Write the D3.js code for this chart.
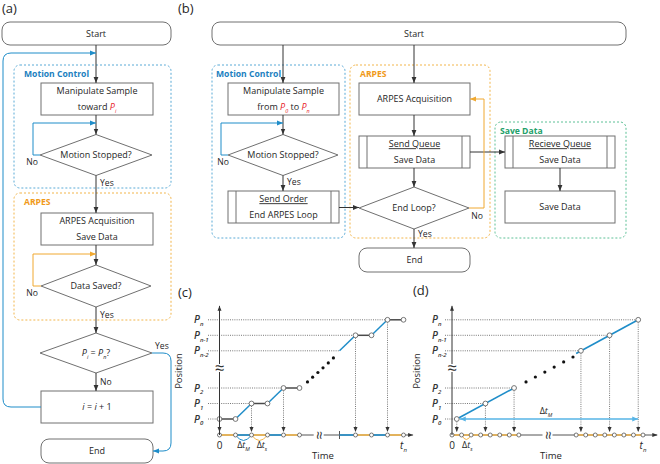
<!DOCTYPE html>
<html><head><meta charset="utf-8">
<script src="https://cdn.jsdelivr.net/npm/d3@7"></script>
<style>body{margin:0;background:#fff}svg{display:block;font-family:"Open Sans",sans-serif}</style>
</head><body><svg id="c" width="660" height="464"></svg>
<script>
// ================= DATA =================
const panelLabels = ["(a)", "(b)", "(c)", "(d)"];
const groupTitles = ["Motion Control", "ARPES", "Save Data"];
// flowchart texts (rich parts: string | {P:sub, red} | {it:txt} | {u:txt})
const textA = {
  start: [["Start"]],
  move: [["Manipulate Sample"], ["toward ", {P: "i", red: 1}]],
  stopped: [["Motion Stopped?"]],
  acq: [["ARPES Acquisition"], ["Save Data"]],
  saved: [["Data Saved?"]],
  done: [[{P: "i"}, " = ", {P: "n"}, "?"]],
  inc: [[{it: "i"}, " = ", {it: "i"}, " + 1"]],
  end: [["End"]]
};
const textB = {
  start: [["Start"]],
  move: [["Manipulate Sample"], ["from ", {P: "0", red: 1}, " to ", {P: "n", red: 1}]],
  stopped: [["Motion Stopped?"]],
  order: [[{u: "Send Order"}], ["End ARPES Loop"]],
  acq: [["ARPES Acquisition"]],
  queue: [[{u: "Send Queue"}], ["Save Data"]],
  endloop: [["End Loop?"]],
  end: [["End"]],
  recv: [[{u: "Recieve Queue"}], ["Save Data"]],
  save: [["Save Data"]]
};
const branchLabels = ["Yes", "No"];

// position/time charts
const posNames = ["0", "1", "2", "n-2", "n-1", "n"];
const posLevels = [0, 1, 2, 4.4, 5.4, 6.4];
// (c) step-wise motion
const cTimes = [0, 1, 2, 3, 4, 5, 7.5, 8.5, 9.5, 10.5, 11.5];
const cPos   = [0, 0, 1, 1, 2, 2, 4.4, 5.4, 5.4, 6.4, 6.4];
const cMarkT = [0, 1, 2, 3, 4, 5, 8.5, 9.5, 10.5, 11.5];
const cPhaseT = [[0,1],[1,2],[2,3],[3,4],[4,5],[7.5,8.5],[8.5,9.5],[9.5,10.5],[10.5,11.5]];
const cPhase  = ["acq","move","acq","move","acq","move","acq","move","acq"];
const cDropT = [0, 2, 4, 8.5, 10.5];
const cDropP = [0, 1, 2, 5.4, 6.4];
const cGuideT = [0, 2, 4, 7.5, 8.5, 10.5];
const cDotT = [5.5, 5.82, 6.15, 6.47, 6.8, 7.12];
const cDotP = [2.39, 2.7, 3.0, 3.3, 3.62, 3.94];
// (d) continuous motion
const dPtT = [0.5, 3.5, 6.5, 13.5, 16.5, 19.5];
const dPtP = [0, 1, 2, 4.4, 5.4, 6.4];
const dLineA = [[0.5, 0], [6.5, 2]];
const dLineB = [[13.0, 4.23], [19.5, 6.4]];
const dMarkT = [0,1,2,3,4,5,6,7,13,14,15,16,17,18,19,20];
const dDotT = [7.75, 8.73, 9.72, 10.7, 11.69, 12.67];
const dDotP = [2.39, 2.71, 3.03, 3.35, 3.68, 4.0];

// ================= STYLE =================
const C = {stroke:"#707070", text:"#262626", blue:"#1f8dc9", blueT:"#1b7fc0", blueD:"#5aaad6",
  orange:"#f0a830", orangeT:"#f09a1a", orangeD:"#f2b54a", green:"#23a06a", greenD:"#5cc096",
  red:"#e8262c", hold:"#4a4a4a", lblue:"#56b4e6", dark:"#333"};
const FS = 9;
const svg = d3.select("#c");
const defs = svg.append("defs");
function marker(id, col, size) {
  defs.append("marker").attr("id", id).attr("viewBox", "0 0 10 10").attr("refX", 10).attr("refY", 5)
    .attr("markerWidth", size).attr("markerHeight", size).attr("markerUnits", "userSpaceOnUse")
    .attr("orient", "auto-start-reverse")
    .append("path").attr("d", "M0,1 L10,5 L0,9 Z").attr("fill", col);
}
marker("arD", C.dark, 6); marker("arB", C.blue, 6); marker("arO", C.orange, 6);
marker("arL", C.lblue, 6); marker("arS", C.dark, 5);

// ================= HELPERS =================
function rich(g, x, y, parts, opt = {}) {
  const size = opt.size || FS;
  const t = g.append("text").attr("x", x).attr("y", y).attr("text-anchor", opt.anchor || "middle")
    .attr("font-size", size).attr("fill", opt.fill || C.text)
    .attr("font-weight", opt.weight || null).attr("font-style", opt.style || null);
  let shift = 0;
  const add = (txt) => { const s = t.append("tspan").text(txt); if (shift) { s.attr("dy", shift); shift = 0; } return s; };
  const sub = (txt, col) => {
    const s = t.append("tspan").attr("font-size", size * 0.6).attr("dy", size * 0.28 + shift).attr("font-style", "italic")
      .attr("fill", col || null).text(txt);
    shift = -size * 0.28;
    return s;
  };
  parts.forEach(p => {
    if (typeof p === "string") add(p);
    else if (p.P !== undefined) {
      const col = p.red ? C.red : null;
      add("P").attr("font-style", "italic").attr("fill", col);
      sub(p.P, col);
    } else if (p.it !== undefined) add(p.it).attr("font-style", "italic");
    else if (p.u !== undefined) add(p.u).attr("text-decoration", "underline");
    else if (p.sub !== undefined) sub(p.sub);
  });
  return t;
}
function lines(g, cx, cy, rows) {
  const n = rows.length, gap = 16;
  rows.forEach((r, i) => rich(g, cx, cy + (i - (n - 1) / 2) * gap + FS * 0.36, r));
}
function node(g, kind, b, rows, tx) {
  if (kind === "dec") {
    g.append("polygon").attr("points", [[b.cx, b.cy - b.hh], [b.cx + b.hw, b.cy], [b.cx, b.cy + b.hh], [b.cx - b.hw, b.cy]].join(" "))
      .attr("fill", "#fff").attr("stroke", C.stroke).attr("stroke-width", 1);
    lines(g, b.cx, b.cy, rows);
    return;
  }
  g.append("rect").attr("x", b.x).attr("y", b.y).attr("width", b.w).attr("height", b.h)
    .attr("rx", kind === "term" ? 8 : 0).attr("fill", "#fff").attr("stroke", C.stroke).attr("stroke-width", 1);
  if (kind === "pre") {
    [b.x + 8, b.x + b.w - 8].forEach(xx => g.append("line").attr("x1", xx).attr("x2", xx)
      .attr("y1", b.y).attr("y2", b.y + b.h).attr("stroke", C.stroke));
  }
  lines(g, tx !== undefined ? tx : b.x + b.w / 2, b.y + b.h / 2, rows);
}
function group(g, b, col, title, tcol) {
  g.append("rect").attr("x", b.x).attr("y", b.y).attr("width", b.w).attr("height", b.h).attr("rx", 6)
    .attr("fill", "none").attr("stroke", col).attr("stroke-dasharray", "2,2").attr("stroke-width", 1);
  g.append("text").attr("x", b.x + 10 - (b.tx || 0)).attr("y", b.y + 11.5).attr("font-size", 8.6)
    .attr("font-weight", 700).attr("fill", tcol).text(title);
}
function path(g, d, col, mk, w = 1) {
  g.append("path").attr("d", d).attr("fill", "none").attr("stroke", col).attr("stroke-width", w)
    .attr("marker-end", mk ? `url(#${mk})` : null);
}
function seg(g, a, b) { path(g, `M${a[0]},${a[1]}L${b[0]},${b[1]}`, C.dark, "arD"); }
function lab(g, x, y, t, anchor = "start") {
  g.append("text").attr("x", x).attr("y", y).attr("font-size", 8.6).attr("fill", C.text).attr("text-anchor", anchor).text(t);
}

// ================= PANEL LABELS =================
const plPos = [[2, 13], [178, 13], [178, 297], [413, 295]];
panelLabels.forEach((t, i) => svg.append("text").attr("x", plPos[i][0]).attr("y", plPos[i][1])
  .attr("font-size", 13).attr("fill", C.text).text(t));

// ================= PANEL (a) =================
const A = svg.append("g");
group(A, {x: 14, y: 65, w: 157, h: 123}, C.blueD, groupTitles[0], C.blueT);
group(A, {x: 14, y: 193, w: 157, h: 127}, C.orangeD, groupTitles[1], C.orangeT);
node(A, "term", {x: 2, y: 22, w: 169, h: 23}, textA.start, 96);
node(A, "proc", {x: 41, y: 83, w: 112, h: 32}, textA.move);
node(A, "dec", {cx: 96, cy: 155, hw: 56, hh: 20.5}, textA.stopped);
node(A, "proc", {x: 41, y: 213, w: 112, h: 32}, textA.acq);
node(A, "dec", {cx: 96, cy: 286, hw: 55, hh: 21}, textA.saved);
node(A, "dec", {cx: 96, cy: 353, hw: 56, hh: 20}, textA.done);
node(A, "proc", {x: 41, y: 391, w: 112, h: 32}, textA.inc);
node(A, "term", {x: 41, y: 439, w: 112, h: 24}, textA.end);
[[45, 83], [115, 134.5], [175.5, 213], [245, 265], [307, 333], [373, 391]].forEach(p => seg(A, [96, p[0]], [96, p[1]]));
path(A, "M40,155H33V123H96", C.blue, "arB");
path(A, "M41,286H33V254H96", C.orange, "arO");
path(A, "M41,407H11Q3,407 3,399V61Q3,53 11,53H96", C.blue, "arB");
path(A, "M152,353H163Q171,353 171,361V443Q171,451 163,451H153", C.blue, "arB");
lab(A, 32, 165, branchLabels[1], "middle");
lab(A, 100, 186, branchLabels[0]);
lab(A, 32, 296, branchLabels[1], "middle");
lab(A, 100, 318, branchLabels[0]);
lab(A, 155, 349, branchLabels[0]);
lab(A, 100, 385, branchLabels[1]);

// ================= PANEL (b) =================
const B = svg.append("g");
group(B, {x: 212, y: 65, w: 133, h: 173, tx: 6}, C.blueD, groupTitles[0], C.blueT);
group(B, {x: 350, y: 65, w: 140, h: 173}, C.orangeD, groupTitles[1], C.orangeT);
group(B, {x: 495, y: 122, w: 131, h: 116, tx: 5}, C.greenD, groupTitles[2], C.green);
node(B, "term", {x: 212, y: 22, w: 414, h: 23}, textB.start, 414);
node(B, "proc", {x: 228, y: 83, w: 111, h: 32}, textB.move);
node(B, "dec", {cx: 283, cy: 155, hw: 55, hh: 20.5}, textB.stopped);
node(B, "pre", {x: 228, y: 191, w: 111, h: 32}, textB.order);
node(B, "proc", {x: 359, y: 83, w: 111, h: 32}, textB.acq);
node(B, "pre", {x: 359, y: 136, w: 111, h: 32}, textB.queue);
node(B, "dec", {cx: 414, cy: 208, hw: 55, hh: 21}, textB.endloop);
node(B, "term", {x: 359, y: 248, w: 111, h: 24}, textB.end);
node(B, "pre", {x: 505, y: 136, w: 110, h: 32}, textB.recv);
node(B, "proc", {x: 505, y: 191, w: 110, h: 32}, textB.save);
seg(B, [283, 45], [283, 83]); seg(B, [414, 45], [414, 83]);
seg(B, [283, 115], [283, 134.5]); seg(B, [283, 175.5], [283, 191]);
seg(B, [339, 207.5], [359, 207.5]);
seg(B, [414, 115], [414, 136]); seg(B, [414, 168], [414, 187]); seg(B, [414, 229], [414, 248]);
seg(B, [470, 152], [505, 152]); seg(B, [560, 168], [560, 191]);
path(B, "M228,155H221V123H283", C.blue, "arB");
path(B, "M469,208H484V99H470", C.orange, "arO");
lab(B, 223, 165, branchLabels[1], "middle");
lab(B, 287, 185, branchLabels[0]);
lab(B, 477, 219, branchLabels[1], "middle");
lab(B, 418, 237, branchLabels[0]);

// ================= CHART HELPERS =================
function posAxis(g, x, y, ax, labX) {
  path(g, `M${x(0)},${ax}V${y(7.3)}`, C.dark, "arS");
  g.append("rect").attr("x", x(0) - 6).attr("y", 364).attr("width", 12).attr("height", 8).attr("fill", "#fff");
  g.append("text").attr("x", x(0)).attr("y", 374).attr("text-anchor", "middle").attr("font-size", 17)
    .attr("fill", C.dark).text("\u2248");
  posNames.forEach((n, i) => rich(g, labX, y(posLevels[i]) + 3.5, [{P: n}], {anchor: "start", size: 10, weight: 600, fill: C.dark}));
  g.append("text").attr("transform", `translate(${labX - 12},371) rotate(-90)`).attr("text-anchor", "middle")
    .attr("font-size", 9.5).attr("fill", C.text).text("Position");
}
function xBreak(g, xb, ax) {
  g.append("rect").attr("x", xb - 5).attr("y", ax - 5).attr("width", 10).attr("height", 10).attr("fill", "#fff");
  g.append("text").attr("transform", `translate(${xb},${ax}) rotate(90)`).attr("text-anchor", "middle")
    .attr("dy", 5).attr("font-size", 15).attr("fill", C.dark).text("\u2248");
}
function dotted(g, x1, y1, x2, y2, arrow) {
  g.append("line").attr("x1", x1).attr("y1", y1).attr("x2", x2).attr("y2", y2).attr("stroke", "#555")
    .attr("stroke-width", 0.8).attr("stroke-dasharray", "1,1.2").attr("marker-end", arrow ? "url(#arS)" : null);
}
function circ(g, cx, cy, r = 2.4) {
  g.append("circle").attr("cx", cx).attr("cy", cy).attr("r", r).attr("fill", "#fff").attr("stroke", "#666").attr("stroke-width", 0.9);
}

// ================= PANEL (c) =================
const G1 = svg.append("g");
const xc = d3.scaleLinear().domain([0, 1]).range([219.5, 235.5]);
const yc = d3.scaleLinear().domain([0, 1]).range([419, 403.5]);
const axC = 435;
posLevels.forEach((l, i) => dotted(G1, 208, yc(l), xc(cGuideT[i]), yc(l), false));
cDropT.forEach((t, i) => dotted(G1, xc(t), yc(cDropP[i]) + 2.5, xc(t), axC - 3, true));
path(G1, `M${xc(0)},${axC}H${xc(12.1)}`, "#555", "arS");
xBreak(G1, xc(6.2), axC);
G1.append("line").attr("x1", xc(7.5)).attr("x2", xc(7.5)).attr("y1", axC - 4).attr("y2", axC + 4).attr("stroke", "#555");
cPhaseT.forEach((p, i) => G1.append("line").attr("x1", xc(p[0])).attr("x2", xc(p[1])).attr("y1", axC).attr("y2", axC)
  .attr("stroke", cPhase[i] === "acq" ? C.orangeD : C.blue).attr("stroke-width", 1.6));
[[1, 2, C.blue], [2, 3, C.orangeD]].forEach(a => path(G1, `M${xc(a[0])},${axC}Q${xc((a[0] + a[1]) / 2)},${axC + 11} ${xc(a[1])},${axC}`, a[2], null, 1));
cMarkT.forEach(t => circ(G1, xc(t), axC, 2));
for (let i = 0; i < cTimes.length - 1; i++) {
  if (i === 5) continue;
  const mv = cPos[i] !== cPos[i + 1];
  G1.append("line").attr("x1", xc(cTimes[i])).attr("y1", yc(cPos[i])).attr("x2", xc(cTimes[i + 1])).attr("y2", yc(cPos[i + 1]))
    .attr("stroke", mv ? C.blue : C.hold).attr("stroke-width", 1.5);
}
cTimes.forEach((t, i) => { if (i !== 6) circ(G1, xc(t), yc(cPos[i])); });
cDotT.forEach((t, i) => G1.append("circle").attr("cx", xc(t)).attr("cy", yc(cDotP[i])).attr("r", 1.6).attr("fill", "#111"));
posAxis(G1, xc, yc, axC, 194);
rich(G1, xc(0), 449, ["0"], {size: 10});
rich(G1, xc(1.5), 448, ["\u0394", {it: "t"}, {sub: "M"}], {size: 9});
rich(G1, xc(2.65), 448, ["\u0394", {it: "t"}, {sub: "s"}], {size: 9});
rich(G1, xc(11.5), 449, [{it: "t"}, {sub: "n"}], {size: 10});
rich(G1, 323, 459, ["Time"], {size: 9.5});

// ================= PANEL (d) =================
const G2 = svg.append("g");
const xd = d3.scaleLinear().domain([0, 1]).range([452, 461.55]);
const yd = yc;
const axD = 435;
posLevels.forEach((l, i) => dotted(G2, 445, yd(l), xd(dPtT[i]), yd(l), false));
dPtT.forEach((t, i) => dotted(G2, xd(t), yd(dPtP[i]) + 2.5, xd(t), axD - 3, true));
path(G2, `M${xd(0)},${axD}H${xd(21.5)}`, "#555", "arS");
xBreak(G2, xd(10), axD);
[[0, 7], [13, 20]].forEach(p => G2.append("line").attr("x1", xd(p[0])).attr("x2", xd(p[1])).attr("y1", axD).attr("y2", axD)
  .attr("stroke", C.orangeD).attr("stroke-width", 1.6));
path(G2, `M${xd(1)},${axD}Q${xd(1.5)},${axD + 9} ${xd(2)},${axD}`, C.orangeD, null, 1);
dMarkT.forEach(t => circ(G2, xd(t), axD, 2));
[dLineA, dLineB].forEach(L => G2.append("line").attr("x1", xd(L[0][0])).attr("y1", yd(L[0][1])).attr("x2", xd(L[1][0])).attr("y2", yd(L[1][1]))
  .attr("stroke", C.blue).attr("stroke-width", 1.6));
G2.append("line").attr("x1", xd(0.5) + 3).attr("x2", xd(19.5)).attr("y1", yd(0)).attr("y2", yd(0))
  .attr("stroke", C.lblue).attr("stroke-width", 1.6).attr("marker-start", "url(#arL)").attr("marker-end", "url(#arL)");
dPtT.forEach((t, i) => circ(G2, xd(t), yd(dPtP[i])));
dDotT.forEach((t, i) => G2.append("circle").attr("cx", xd(t)).attr("cy", yd(dDotP[i])).attr("r", 1.6).attr("fill", "#111"));
posAxis(G2, xd, yd, axD, 432);
rich(G2, xd(0), 449, ["0"], {size: 10});
rich(G2, xd(1.6), 448, ["\u0394", {it: "t"}, {sub: "s"}], {size: 9});
rich(G2, 546, 414, ["\u0394", {it: "t"}, {sub: "M"}], {size: 9});
rich(G2, xd(20), 449, [{it: "t"}, {sub: "n"}], {size: 10});
rich(G2, 551, 459, ["Time"], {size: 9.5});
</script></body></html>
